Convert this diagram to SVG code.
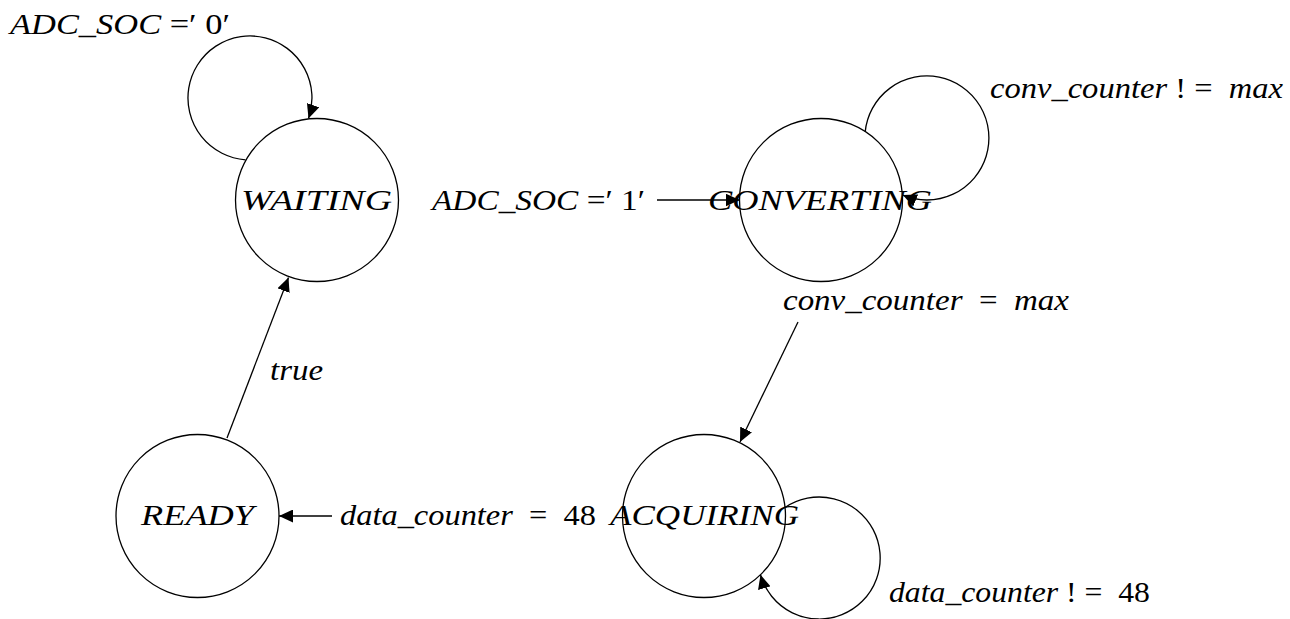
<svg xmlns="http://www.w3.org/2000/svg" width="1290" height="619" viewBox="0 0 1290 619">
  <style>
    .state { fill: none; stroke: #000000; stroke-width: 1.3; }
    .edge { fill: none; stroke: #000000; stroke-width: 1.3; }
    .lbl { font-family: "Liberation Serif", "Times New Roman", serif; font-size: 30px; font-style: italic; fill: #000000; white-space: pre; }
    .up { font-style: normal; }
  </style>
  <defs>
    <marker id="arrow" markerWidth="14" markerHeight="13" refX="14" refY="6.5" orient="auto" markerUnits="userSpaceOnUse">
      <path d="M0,0 L14,6.5 L0,13 Z" fill="#000000"/>
    </marker>
  </defs>

  <rect width="1290" height="619" fill="#ffffff"/>

  <!-- transitions -->
  <g id="connectors">
    <!-- WAITING self loop -->
    <path class="edge" d="M245.5,159.8 A62,62 0 1,1 308.5,118.4" marker-end="url(#arrow)"/>
    <!-- start of conversion into CONVERTING -->
    <line class="edge" x1="657" y1="200" x2="739.5" y2="200" marker-end="url(#arrow)"/>
    <!-- CONVERTING self loop -->
    <path class="edge" d="M865.2,131.9 A62,62 0 1,1 902.8,195.1" marker-end="url(#arrow)"/>
    <!-- CONVERTING -> ACQUIRING -->
    <line class="edge" x1="798" y1="322" x2="740" y2="442" marker-end="url(#arrow)"/>
    <!-- ACQUIRING self loop -->
    <path class="edge" d="M785,507.5 A61,61 0 1,1 760.5,574.7" marker-end="url(#arrow)"/>
    <!-- ACQUIRING -> READY -->
    <line class="edge" x1="332" y1="516" x2="279" y2="516" marker-end="url(#arrow)"/>
    <!-- READY -> WAITING -->
    <line class="edge" x1="227" y1="438" x2="288.5" y2="277.5" marker-end="url(#arrow)"/>
  </g>

  <!-- transition labels -->
  <g id="edge-labels" xml:space="preserve">
    <text class="lbl" x="10" y="34" textLength="220" lengthAdjust="spacingAndGlyphs">ADC_SOC <tspan class="up">=′ 0′</tspan></text>
    <text class="lbl" x="432" y="210" textLength="213" lengthAdjust="spacingAndGlyphs">ADC_SOC <tspan class="up">=′ 1′</tspan></text>
    <text class="lbl" x="990" y="98" textLength="293" lengthAdjust="spacingAndGlyphs">conv_counter <tspan class="up">! =  </tspan>max</text>
    <text class="lbl" x="783" y="310" textLength="286" lengthAdjust="spacingAndGlyphs">conv_counter <tspan class="up"> =  </tspan>max</text>
    <text class="lbl" x="270" y="380" textLength="53" lengthAdjust="spacingAndGlyphs">true</text>
    <text class="lbl" x="340" y="525" textLength="256" lengthAdjust="spacingAndGlyphs">data_counter <tspan class="up"> =  48</tspan></text>
    <text class="lbl" x="889" y="602" textLength="261" lengthAdjust="spacingAndGlyphs">data_counter <tspan class="up">! =  48</tspan></text>
  </g>

  <!-- states -->
  <g id="waiting">
    <circle class="state" cx="317" cy="200" r="81.5"/>
    <text class="lbl" x="241" y="210" textLength="151" lengthAdjust="spacingAndGlyphs">WAITING</text>
  </g>
  <g id="converting">
    <circle class="state" cx="821" cy="200" r="81.5"/>
    <text class="lbl" x="708" y="210" textLength="224" lengthAdjust="spacingAndGlyphs">CONVERTING</text>
  </g>
  <g id="ready">
    <circle class="state" cx="197.5" cy="516" r="81.5"/>
    <text class="lbl" x="141" y="525" textLength="113" lengthAdjust="spacingAndGlyphs">READY</text>
  </g>
  <g id="acquiring">
    <circle class="state" cx="704" cy="516" r="81.5"/>
    <text class="lbl" x="610" y="525" textLength="189" lengthAdjust="spacingAndGlyphs">ACQUIRING</text>
  </g>
</svg>
